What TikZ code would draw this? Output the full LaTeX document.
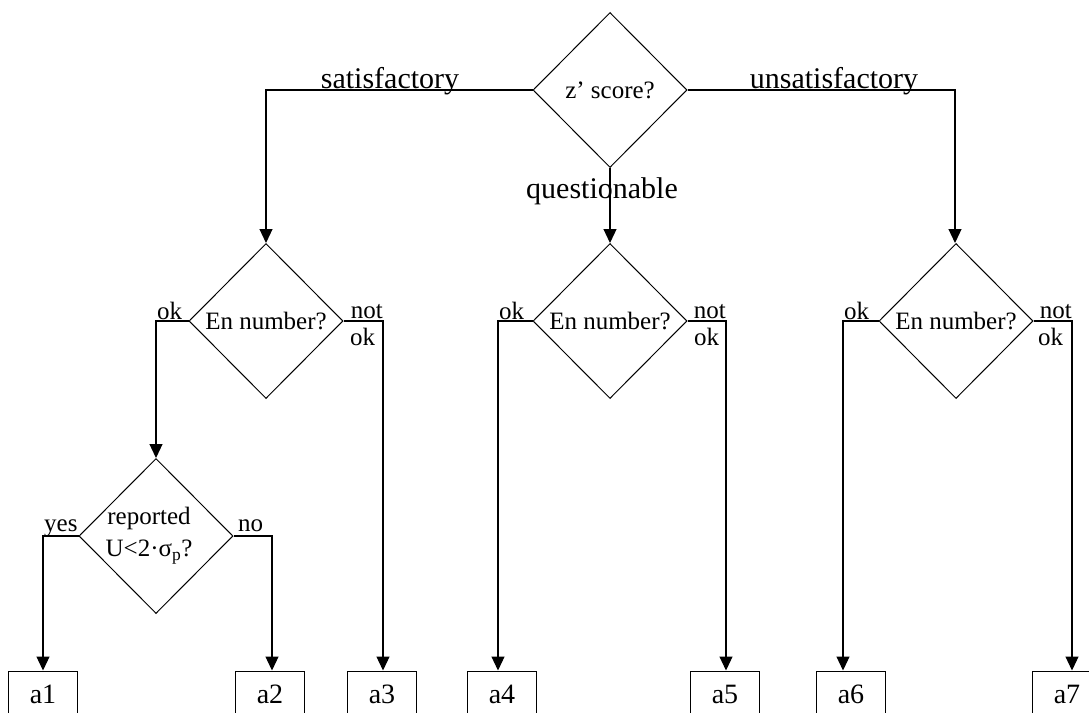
\documentclass[tikz,border=0pt]{standalone}
\usepackage{fontspec}
\setmainfont{Liberation Serif}
\usetikzlibrary{shapes.geometric,arrows.meta}
\tikzset{
 dec/.style={draw, shape=diamond, inner sep=0pt, minimum width=154pt, minimum height=155pt, line width=1pt, font=\fontsize{25}{31}\selectfont, align=center},
 outbox/.style={draw, rectangle, minimum width=69pt, minimum height=46pt, inner sep=0pt, line width=1pt, font=\fontsize{28}{32}\selectfont},
 conn/.style={line width=1.2pt},
 arr/.style={conn, -{Triangle[width=13pt,length=14pt]}},
 lbl/.style={inner sep=0pt, font=\fontsize{25}{28}\selectfont},
 blbl/.style={inner sep=0pt, font=\fontsize{30}{34}\selectfont},
}
\begin{document}
\begin{tikzpicture}[x=1pt,y=-1pt]
\useasboundingbox (0,0) rectangle (1089,712);
\clip (0,0) rectangle (1089,712);
% decisions
\node[dec] (d0) at (610,90) {z’ score?};
\node[dec] (d1) at (266,321) {En number?};
\node[dec] (d2) at (610,321) {En number?};
\node[dec] (d3) at (956,321) {En number?};
\node[dec] (d4) at (156,536) {\hspace*{-14pt}reported\\[1pt]\hspace*{-14pt}U<2·σ\textsubscript{p}?};
% outcome boxes
\node[outbox] (a1) at (43,694) {a1};
\node[outbox] (a2) at (270,694) {a2};
\node[outbox] (a3) at (382,694) {a3};
\node[outbox] (a4) at (502,694) {a4};
\node[outbox] (a5) at (725,694) {a5};
\node[outbox] (a6) at (851,694) {a6};
\node[outbox] (a7) at (1067,694) {a7};
% corners
\coordinate (cs) at (266,90);
\coordinate (cu) at (955,90);
\coordinate (c1) at (156,321);
\coordinate (c3) at (383,321);
\coordinate (c4) at (498,321);
\coordinate (c5) at (726,321);
\coordinate (c6) at (843,321);
\coordinate (c7) at (1072,321);
\coordinate (cy) at (43,536);
\coordinate (cn) at (272,536);
% branch labels
\node[blbl, anchor=base] (ls) at (390,88) {satisfactory};
\node[blbl, anchor=base] (lu) at (834,88) {unsatisfactory};
\node[blbl, anchor=base] (lq) at (602,198) {questionable};
\node[lbl, anchor=base west] (o1) at (157,319) {ok};
\node[lbl, anchor=base west] (o2) at (499,319) {ok};
\node[lbl, anchor=base west] (o3) at (844,319) {ok};
\node[lbl, anchor=base east] (n1) at (383,318) {not};
\node[lbl, anchor=base east] (n2) at (726,318) {not};
\node[lbl, anchor=base east] (n3) at (1072,318) {not};
\node[lbl, anchor=base west] (k1) at (350,345) {ok};
\node[lbl, anchor=base west] (k2) at (694,345) {ok};
\node[lbl, anchor=base west] (k3) at (1038,345) {ok};
\node[lbl, anchor=base west] (ly) at (44,531) {yes};
\node[lbl, anchor=base west] (ln) at (238,531) {no};
% connectors
\draw[arr] (d0.west) -- (cs) -- (cs |- d1.north);
\draw[arr] (d0.east) -- (cu) -- (cu |- d3.north);
\draw[arr] (d0.south) -- (d2.north);
\draw[arr] (d1.west) -- (c1) -- (c1 |- d4.north);
\draw[arr] (d1.east) -- (c3) -- (c3 |- a3.north);
\draw[arr] (d2.west) -- (c4) -- (c4 |- a4.north);
\draw[arr] (d2.east) -- (c5) -- (c5 |- a5.north);
\draw[arr] (d3.west) -- (c6) -- (c6 |- a6.north);
\draw[arr] (d3.east) -- (c7) -- (c7 |- a7.north);
\draw[arr] (d4.west) -- (cy) -- (cy |- a1.north);
\draw[arr] (d4.east) -- (cn) -- (cn |- a2.north);
\end{tikzpicture}
\end{document}
